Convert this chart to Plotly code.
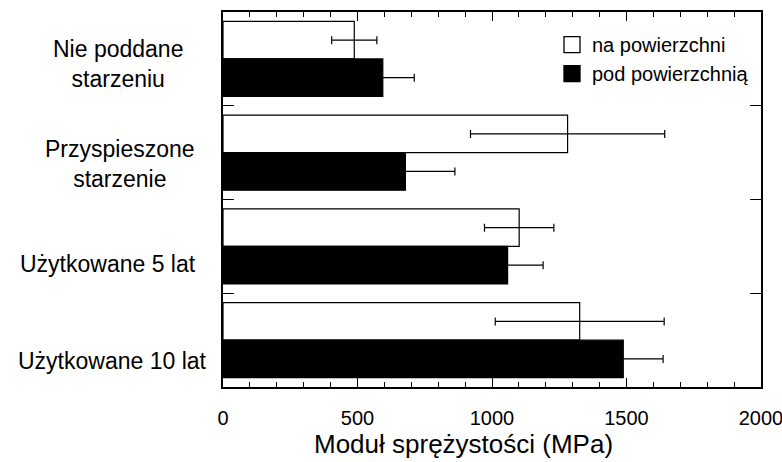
import plotly.graph_objects as go

categories = ["Nie poddane<br>starzeniu", "Przyspieszone<br>starzenie",
              "Użytkowane 5 lat", "Użytkowane 10 lat"]
series_names = ["na powierzchni", "pod powierzchnią"]
surface_vals = [488, 1281, 1101, 1326]
surface_err = [84, 361, 129, 314]
subsurface_vals = [594, 678, 1058, 1488]
subsurface_err = [117, 184, 132, 148]
x_tickvals = [0, 500, 1000, 1500, 2000]
x_title = "Moduł sprężystości (MPa)"

FONT = "Liberation Sans, Arial, sans-serif"
L, R, T, B = 223, 21, 12, 75
W, H = 782, 462
plot_w = W - L - R
plot_h = H - T - B

fig = go.Figure()
fig.add_trace(go.Bar(
    y=categories, x=surface_vals, orientation="h", name=series_names[0],
    marker=dict(color="white", line=dict(color="black", width=1.2)),
    error_x=dict(type="data", array=surface_err, color="black", thickness=1.2, width=4),
    showlegend=False))
fig.add_trace(go.Bar(
    y=categories, x=subsurface_vals, orientation="h", name=series_names[1],
    marker=dict(color="black", line=dict(color="black", width=1.2)),
    error_x=dict(type="data", array=subsurface_err, color="black", thickness=1.2, width=4),
    showlegend=False))
# legend entries
for nm, col in zip(series_names, ["white", "black"]):
    fig.add_trace(go.Scatter(
        x=[None], y=[None], mode="markers", name=nm,
        marker=dict(symbol="square", size=16, color=col,
                    line=dict(color="black", width=1.3))))

# category labels (left side)
label_shifts = [-5.5, -11.5, -17.6, -21]
label_cx = [118, 120, 107.5, 112.5]
annotations = []
for cat, ys, cx in zip(categories, label_shifts, label_cx):
    annotations.append(dict(
        text=cat, xref="paper", x=(cx - L) / plot_w, xanchor="center",
        yref="y", y=cat, yanchor="middle", yshift=ys, align="center",
        showarrow=False, font=dict(family=FONT, size=23, color="black")))
annotations.append(dict(
    text=x_title, xref="paper", x=(463 - L) / plot_w, xanchor="center",
    yref="paper", y=-(444 - (H - B)) / plot_h, yanchor="middle", showarrow=False,
    font=dict(family=FONT, size=26, color="black")))

fig.update_layout(
    width=W, height=H,
    margin=dict(l=L, r=R, t=T, b=B, autoexpand=False),
    paper_bgcolor="white", plot_bgcolor="white",
    barmode="group", bargap=0.2, bargroupgap=0,
    font=dict(family=FONT, color="black"),
    showlegend=True,
    legend=dict(x=(552 - L) / plot_w, y=0.965, xanchor="left", yanchor="top",
                bgcolor="rgba(0,0,0,0)", borderwidth=0,
                font=dict(family=FONT, size=20, color="black"),
                traceorder="normal", itemwidth=30, tracegroupgap=0),
    annotations=annotations,
)
fig.update_xaxes(
    range=[0, 2000], tickvals=x_tickvals, ticktext=[str(v) for v in x_tickvals],
    ticks="inside", ticklen=9, tickwidth=1.2, tickcolor="black",
    minor=dict(dtick=100, ticks="inside", ticklen=5, tickwidth=1, tickcolor="black"),
    showline=True, linecolor="black", linewidth=1.5, mirror="ticks",
    showgrid=False, zeroline=False, automargin=False,
    tickfont=dict(family=FONT, size=20, color="black"),
    ticklabelstandoff=12, ticklabeloverflow="allow",
)
fig.update_yaxes(
    type="category", categoryorder="array", categoryarray=categories,
    autorange="reversed", tickson="boundaries",
    ticks="inside", ticklen=11, tickwidth=1.2, tickcolor="black",
    showticklabels=False, automargin=False,
    showline=True, linecolor="black", linewidth=1.5, mirror="ticks",
    showgrid=False, zeroline=False,
)

fig.write_html("out.html")
